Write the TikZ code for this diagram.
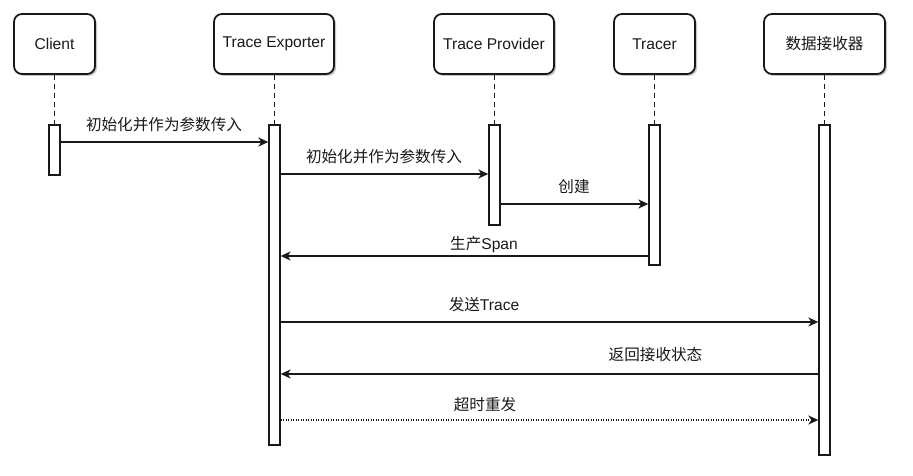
\documentclass[tikz,border=0pt]{standalone}
\usepackage{fontspec}
\setmainfont{Liberation Sans}
\newfontfamily\cjk{Noto Sans CJK SC}
\usetikzlibrary{arrows.meta,shadows}
\begin{document}
\begin{tikzpicture}[x=1pt,y=-1pt,
  txt/.style={font=\fontsize{15.6}{18}\selectfont, inner sep=0pt, text=black!90},
  actor/.style={txt, draw=black!90, line width=1.8pt, rounded corners=8pt, fill=white,
    minimum height=60pt,
    drop shadow={shadow xshift=2pt, shadow yshift=-2pt, fill=black!22, opacity=1}},
  act/.style={draw=black!90, line width=1.8pt, fill=white, minimum width=10.5pt, inner sep=0pt, anchor=north},
  life/.style={draw=black!90, line width=1.8pt, dash pattern=on 5pt off 4pt},
  msg/.style={draw=black!90, line width=1.7pt, -{Stealth[length=10pt,width=9pt,inset=3pt]}},
  dotmsg/.style={msg, dash pattern=on 1.3pt off 1.2pt},
  lbl/.style={txt}
]
\useasboundingbox (0,0) rectangle (913,476);

% actors
\node[actor, minimum width=81pt]  (client) at (54.5,44) {Client};
\node[actor, minimum width=120pt] (exp)    at (274,44)  {Trace Exporter};
\node[actor, minimum width=120pt] (prov)   at (494,44)  {Trace Provider};
\node[actor, minimum width=81pt]  (tracer) at (654.5,44) {Tracer};
\node[actor, minimum width=121pt] (recv)   at (824.5,44) {\cjk 数据接收器};

% activations
\node[act, minimum height=50pt]  (aclient) at (54.5,124) {};
\node[act, minimum height=320pt] (aexp)    at (274.5,124) {};
\node[act, minimum height=100pt] (aprov)   at (494.5,124) {};
\node[act, minimum height=140pt] (atracer) at (654.5,124) {};
\node[act, minimum height=330pt] (arecv)   at (824.5,124) {};

% lifelines
\draw[life] (client.south) -- (aclient.north);
\draw[life] (exp.south -| aexp.north) -- (aexp.north);
\draw[life] (prov.south -| aprov.north) -- (aprov.north);
\draw[life] (tracer.south) -- (atracer.north);
\draw[life] (recv.south) -- (arecv.north);

% messages
\draw[msg] ([yshift=-18pt]aclient.north east) -- ([yshift=-18pt]aexp.north west);
\draw[msg] ([yshift=-50pt]aexp.north east) -- ([yshift=-50pt]aprov.north west);
\draw[msg] ([yshift=-80pt]aprov.north east) -- ([yshift=-80pt]atracer.north west);
\draw[msg] ([yshift=-132pt]atracer.north west) -- ([yshift=-132pt]aexp.north east);
\draw[msg] ([yshift=-198pt]aexp.north east) -- ([yshift=-198pt]arecv.north west);
\draw[msg] ([yshift=-250pt]arecv.north west) -- ([yshift=-250pt]aexp.north east);
\draw[dotmsg] ([yshift=-296pt]aexp.north east) -- ([yshift=-296pt]arecv.north west);

% labels
\node[lbl] (l1) at (164,125) {\cjk 初始化并作为参数传入};
\node[lbl] (l2) at (384,157) {\cjk 初始化并作为参数传入};
\node[lbl] (l3) at (574,187) {\cjk 创建};
\node[lbl] (l4) at (484,245) {{\cjk 生产}Span};
\node[lbl] (l5) at (484,305) {{\cjk 发送}Trace};
\node[lbl] (l6) at (655.5,355) {\cjk 返回接收状态};
\node[lbl] (l7) at (485,405) {\cjk 超时重发};
\end{tikzpicture}
\end{document}
